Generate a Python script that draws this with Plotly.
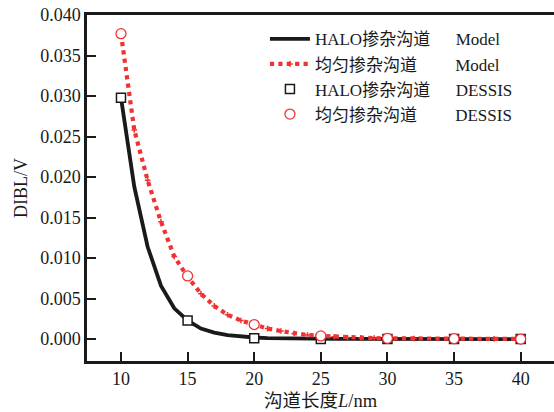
import plotly.graph_objects as go

L_model = [10, 11, 12, 13, 14, 15, 16, 17, 18, 19, 20, 21, 22, 23, 24, 25, 26, 27, 28, 29, 30, 32, 35, 38, 40]
halo_model = [0.0298, 0.0188, 0.0114, 0.0066, 0.0038, 0.0023, 0.0013, 0.0008, 0.0005, 0.0003, 0.0002,
              0.00012, 0.00008, 0.00006, 0.00005, 0.00004, 0.00003, 0.00002, 0.00002, 0.00001, 0.00001,
              0.0, 0.0, 0.0, 0.0]
uni_model = [0.0377, 0.0258, 0.0196, 0.0145, 0.0102, 0.0077, 0.0056, 0.0041, 0.0030, 0.0023, 0.0018,
             0.0013, 0.0010, 0.0007, 0.0005, 0.0004, 0.0003, 0.0002, 0.00015, 0.00012, 0.0001,
             0.00008, 0.00005, 0.00003, 0.00002]

L_sim = [10, 15, 20, 25, 30, 35, 40]
halo_sim = [0.0298, 0.0023, 0.0001, 0.0, 0.0, 0.0, 0.0]
uni_sim = [0.0377, 0.0078, 0.0018, 0.0004, 0.0001, 0.00005, 0.0]

names = ["HALO掺杂沟道\u2003\u2002Model",
         "均匀掺杂沟道\u2003\u2002\u2002\u00a0Model",
         "HALO掺杂沟道\u2003\u2002DESSIS",
         "均匀掺杂沟道\u2003\u2002\u2002\u00a0DESSIS"]

FONT = "Liberation Serif, Times New Roman, Noto Sans CJK SC, serif"
INK = "#1a1a1a"
RED = "#f03232"

fig = go.Figure()
fig.add_trace(go.Scatter(x=L_model, y=halo_model, mode="lines", name=names[0],
                         line=dict(color=INK, width=3.8)))
fig.add_trace(go.Scatter(x=L_model, y=uni_model, mode="lines+markers", name=names[1],
                         line=dict(color=RED, width=4.2, dash="dot"),
                         marker=dict(symbol="cross-thin", size=4, color=RED,
                                     line=dict(color=RED, width=1.5))))
fig.add_trace(go.Scatter(x=L_sim, y=halo_sim, mode="markers", name=names[2],
                         marker=dict(symbol="square", size=9, color="white",
                                     line=dict(color=INK, width=1.5))))
fig.add_trace(go.Scatter(x=L_sim, y=uni_sim, mode="markers", name=names[3],
                         marker=dict(symbol="circle", size=10, color="white",
                                     line=dict(color=RED, width=1.3))))

fig.update_layout(
    width=554, height=412,
    margin=dict(l=87, r=0, t=15, b=51),
    paper_bgcolor="white", plot_bgcolor="white",
    font=dict(family=FONT, size=18, color=INK),
    showlegend=True,
    legend=dict(x=0.381, y=0.982, xanchor="left", yanchor="top",
                bgcolor="rgba(0,0,0,0)", borderwidth=0,
                font=dict(family=FONT, size=17, color=INK),
                tracegroupgap=0, itemwidth=40),
)
fig.update_xaxes(range=[7.45, 42.5], tickvals=[10, 15, 20, 25, 30, 35, 40],
                 showline=True, linecolor=INK, linewidth=2.5, mirror=True,
                 ticks="inside", ticklen=9, tickwidth=2, tickcolor=INK,
                 showgrid=False, zeroline=False,
                 tickfont=dict(family=FONT, size=18),
                 title=dict(text="沟道长度<i>L</i>/nm", font=dict(family=FONT, size=18.5), standoff=6))
fig.update_yaxes(range=[-0.0027, 0.040], tickvals=[0, 0.005, 0.01, 0.015, 0.02, 0.025, 0.03, 0.035, 0.04],
                 tickformat=".3f",
                 showline=True, linecolor=INK, linewidth=2.5,
                 ticks="inside", ticklen=9, tickwidth=2, tickcolor=INK,
                 showgrid=False, zeroline=False,
                 tickfont=dict(family=FONT, size=18),
                 title=dict(text="DIBL/V", font=dict(family=FONT, size=18), standoff=8))

fig.write_html("out.html")
